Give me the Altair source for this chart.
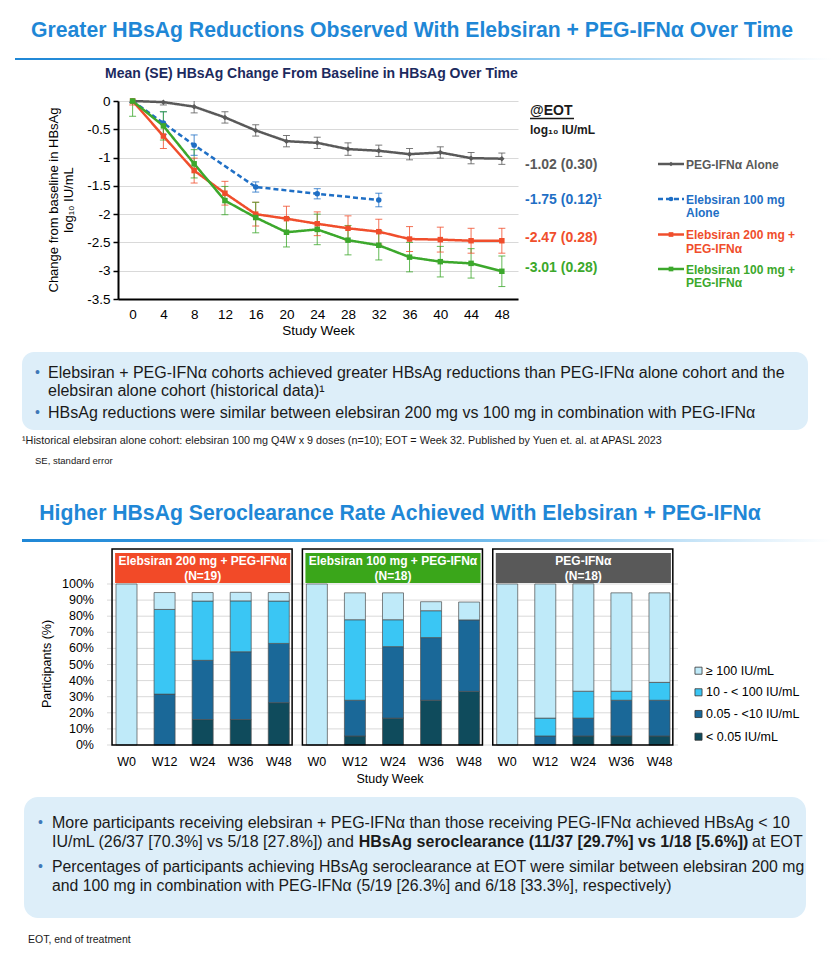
import altair as alt
import pandas as pd

# ---------------- line chart data ----------------
weeks = [0, 4, 8, 12, 16, 20, 24, 28, 32, 36, 40, 44, 48]
series_names = ["PEG-IFNα Alone", "Elebsiran 100 mg Alone",
                "Elebsiran 200 mg + PEG-IFNα", "Elebsiran 100 mg + PEG-IFNα"]
peg_mean = [0, -0.02, -0.10, -0.29, -0.52, -0.71, -0.74, -0.85, -0.88, -0.94, -0.91, -1.01, -1.02]
peg_se = [0.02, 0.05, 0.11, 0.10, 0.10, 0.10, 0.10, 0.11, 0.10, 0.10, 0.10, 0.10, 0.10]
ebs_weeks = [0, 4, 8, 16, 24, 32]
ebs_mean = [0, -0.39, -0.78, -1.52, -1.64, -1.75]
ebs_se = [0.03, 0.20, 0.18, 0.09, 0.09, 0.12]
e200_mean = [0, -0.62, -1.23, -1.63, -2.00, -2.08, -2.17, -2.25, -2.31, -2.44, -2.45, -2.47, -2.47]
e200_se = [0.07, 0.22, 0.22, 0.21, 0.21, 0.22, 0.21, 0.22, 0.22, 0.22, 0.22, 0.22, 0.22]
e100_mean = [0, -0.44, -1.11, -1.76, -2.06, -2.32, -2.27, -2.46, -2.55, -2.76, -2.84, -2.87, -3.01]
e100_se = [0.27, 0.25, 0.25, 0.25, 0.27, 0.26, 0.27, 0.26, 0.26, 0.26, 0.27, 0.26, 0.27]
y_ticks = [0, -0.5, -1, -1.5, -2, -2.5, -3, -3.5]
eot_labels = ["-1.02 (0.30)", "-1.75 (0.12)¹", "-2.47 (0.28)", "-3.01 (0.28)"]
legend_text = [["PEG-IFNα Alone"], ["Elebsiran 100 mg", "Alone"],
               ["Elebsiran 200 mg +", "PEG-IFNα"], ["Elebsiran 100 mg +", "PEG-IFNα"]]

# ---------------- bar chart data ----------------
bar_weeks = ["W0", "W12", "W24", "W36", "W48"]
cohorts = ["Elebsiran 200 mg + PEG-IFNα", "Elebsiran 100 mg + PEG-IFNα", "PEG-IFNα"]
cohort_n = ["(N=19)", "(N=18)", "(N=18)"]
categories = ["< 0.05 IU/mL", "0.05 - <10 IU/mL", "10 - < 100 IU/mL", "≥ 100 IU/mL"]
e200_lt = [0, 0, 15.8, 15.8, 26.3]
e200_low = [0, 31.6, 36.8, 42.1, 36.8]
e200_mid = [0, 52.6, 36.8, 31.6, 26.3]
e200_high = [100, 10.5, 5.3, 5.3, 5.3]
e100_lt = [0, 5.6, 16.7, 27.8, 33.3]
e100_low = [0, 22.2, 44.4, 38.9, 44.4]
e100_mid = [0, 50.0, 16.7, 16.7, 0]
e100_high = [100, 16.7, 16.7, 5.6, 11.1]
peg_lt = [0, 0, 5.6, 5.6, 5.6]
peg_low = [0, 5.6, 11.1, 22.2, 22.2]
peg_mid = [0, 11.1, 16.7, 5.6, 11.1]
peg_high = [100, 83.3, 66.7, 61.1, 55.6]
pct_ticks = [0, 10, 20, 30, 40, 50, 60, 70, 80, 90, 100]

# ---------------- styles ----------------
line_colors = ["#595959", "#1f6fc5", "#f04e2c", "#3ca82c"]
bar_colors = ["#0f4b5c", "#1a6898", "#3ac6f4", "#bfeaf9"]
header_colors = ["#f24a28", "#3aa61a", "#595959"]
TITLE_BLUE = "#1f87d6"
BOX = "#ddeef9"
TXT = "#1a1a1a"

# ---------------- tables ----------------
rows = []
for s, wk, m, se in [(series_names[0], weeks, peg_mean, peg_se),
                     (series_names[1], ebs_weeks, ebs_mean, ebs_se),
                     (series_names[2], weeks, e200_mean, e200_se),
                     (series_names[3], weeks, e100_mean, e100_se)]:
    for w, mm, ss in zip(wk, m, se):
        rows.append(dict(series=s, week=w, mean=mm, se=ss))
line_df = pd.DataFrame(rows)

rows = []
segs = [[e200_lt, e200_low, e200_mid, e200_high],
        [e100_lt, e100_low, e100_mid, e100_high],
        [peg_lt, peg_low, peg_mid, peg_high]]
for ci, name in enumerate(cohorts):
    for wi, wk in enumerate(bar_weeks):
        base = 0.0
        for cat, arr in zip(categories, segs[ci]):
            v = arr[wi]
            rows.append(dict(cohort=name, week=wk, idx=ci * 5 + wi, cat=cat,
                             value=v, y0=base, y1=base + v))
            base += v
bar_df = pd.DataFrame(rows)
xlab_df = pd.DataFrame({"idx": list(range(15)), "lab": bar_weeks * 3})
panel_df = pd.DataFrame({"cohort": cohorts, "n": cohort_n, "start": [0, 5, 10]})

# ---------------- helpers (page pixel -> plot-origin pixel) ----------------
OX, OY = 118, 101


def one():
    return alt.Chart(alt.Data(values=[{}]))


def txt(x, y, s, size=12, color=TXT, weight="normal", align="left", angle=0, baseline="middle"):
    kw = dict(text=s, fontSize=size, color=color, fontWeight=weight, align=align, baseline=baseline)
    if angle:
        kw["angle"] = angle
    return one().mark_text(**kw).encode(x=alt.value(x - OX), y=alt.value(y - OY))


def rect(x0, y0, x1, y1, **kw):
    return one().mark_rect(**kw).encode(x=alt.value(x0 - OX), x2=alt.value(x1 - OX),
                                        y=alt.value(y0 - OY), y2=alt.value(y1 - OY))


def hrule(x0, x1, y, **kw):
    return one().mark_rule(**kw).encode(x=alt.value(x0 - OX), x2=alt.value(x1 - OX), y=alt.value(y - OY))


def dot(x, y, **kw):
    return one().mark_point(filled=True, opacity=1, **kw).encode(x=alt.value(x - OX), y=alt.value(y - OY))


def grad_line(x0, x1, y0, y1):
    g = alt.LinearGradient(gradient="linear", x1=0, x2=1, y1=0, y2=0,
                           stops=[alt.GradientStop(color="#1f87d6", offset=0),
                                  alt.GradientStop(color="#4aa8e6", offset=0.45),
                                  alt.GradientStop(color="#ffffff", offset=1)])
    return rect(x0, y0, x1, y1, fill=g)


# ---------------- line chart ----------------
xs = alt.Scale(domain=[-1.9, 50.1], nice=False, zero=False)
ys = alt.Scale(domain=[-3.5, 0], nice=False, zero=False)
xaxis = alt.Axis(values=weeks, ticks=False, grid=False, domainColor="black", domainWidth=2,
                 labelColor="black", labelFontSize=13.5, labelPadding=8, labelFlush=False,
                 title="Study Week", titleFontSize=13.5, titleFontWeight="normal",
                 titleColor="black", titlePadding=3)
yaxis = alt.Axis(values=y_ticks, labelExpr="toString(datum.value)", tickColor="black",
                 tickSize=5, tickWidth=1.5, domainColor="black", domainWidth=2, grid=True,
                 gridColor="#d9d9d9", gridWidth=1, labelFontSize=13.5, labelPadding=3,
                 labelColor="black", title=None)
X = alt.X("week:Q", scale=xs, axis=xaxis)
col = alt.Color("series:N", scale=alt.Scale(domain=series_names, range=line_colors), legend=None)
dash = alt.StrokeDash("series:N", scale=alt.Scale(domain=series_names, range=[[1, 0], [5, 3], [1, 0], [1, 0]]),
                      legend=None)
shp = alt.Shape("series:N", scale=alt.Scale(domain=series_names, range=["diamond", "circle", "square", "square"]),
                legend=None)

lbase = alt.Chart(line_df).transform_calculate(lo="datum.mean - datum.se", hi="datum.mean + datum.se")
err = lbase.mark_rule(strokeWidth=1, clip=True, opacity=0.8).encode(
    x=X, y=alt.Y("lo:Q", scale=ys, axis=yaxis), y2="hi:Q", color=col)
cap_lo = lbase.mark_tick(orient="horizontal", size=7, thickness=1, clip=True, opacity=0.8).encode(
    x=X, y=alt.Y("lo:Q", scale=ys, axis=yaxis), color=col)
cap_hi = lbase.mark_tick(orient="horizontal", size=7, thickness=1, clip=True, opacity=0.8).encode(
    x=X, y=alt.Y("hi:Q", scale=ys, axis=yaxis), color=col)
lines = lbase.mark_line(strokeWidth=2.5).encode(
    x=X, y=alt.Y("mean:Q", scale=ys, axis=yaxis), color=col, strokeDash=dash, detail="series:N")
pts = lbase.mark_point(filled=True, size=30, opacity=1).encode(
    x=X, y=alt.Y("mean:Q", scale=ys, axis=yaxis), color=col, shape=shp)
line_group = alt.layer(err, cap_lo, cap_hi, lines, pts)

# ---------------- bar chart ----------------
bx = alt.Scale(domain=[0, 14], range=[126.5 - OX, 659.5 - OX], nice=False, zero=False)
by = alt.Scale(domain=[0, 100], range=[745 - OY, 584 - OY], nice=False, zero=False)

grid = alt.Chart(pd.DataFrame({"v": pct_ticks})).mark_rule(color="#d9d9d9", strokeWidth=1).encode(
    y=alt.Y("v:Q", scale=by, axis=None), x=alt.value(107 - OX), x2=alt.value(678 - OX))
bars = alt.Chart(bar_df).transform_filter("datum.value > 0").transform_calculate(
    xl="datum.idx - 0.276", xr="datum.idx + 0.276").mark_rect(stroke="#4d4d4d", strokeWidth=0.7).encode(
    x=alt.X("xl:Q", scale=bx, axis=None), x2="xr:Q",
    y=alt.Y("y0:Q", scale=by, axis=None), y2="y1:Q",
    color=alt.Color("cat:N", scale=alt.Scale(domain=categories, range=bar_colors), legend=None))
pbase = alt.Chart(panel_df).transform_calculate(
    fx0="datum.start - 0.38", fx1="datum.start + 4.35",
    hx0="datum.start - 0.30", hx1="datum.start + 4.30", hc="datum.start + 2")
frames = pbase.mark_rect(fillOpacity=0, stroke="black", strokeWidth=1.5).encode(
    x=alt.X("fx0:Q", scale=bx, axis=None), x2="fx1:Q",
    y=alt.value(549 - OY), y2=alt.value(745 - OY))
headers = pbase.mark_rect().encode(
    x=alt.X("hx0:Q", scale=bx, axis=None), x2="hx1:Q",
    y=alt.value(553 - OY), y2=alt.value(583 - OY),
    fill=alt.Fill("cohort:N", scale=alt.Scale(domain=cohorts, range=header_colors), legend=None))
head_t1 = pbase.mark_text(color="white", fontWeight="bold", fontSize=12).encode(
    x=alt.X("hc:Q", scale=bx, axis=None), y=alt.value(561 - OY), text="cohort:N")
head_t2 = pbase.mark_text(color="white", fontWeight="bold", fontSize=12).encode(
    x=alt.X("hc:Q", scale=bx, axis=None), y=alt.value(576 - OY), text="n:N")
ylabs = alt.Chart(pd.DataFrame({"v": pct_ticks})).transform_calculate(lab="datum.v + '%'").mark_text(
    align="right", fontSize=12.5, color="black").encode(
    y=alt.Y("v:Q", scale=by, axis=None), x=alt.value(94 - OX), text="lab:N")
xlabs = alt.Chart(xlab_df).mark_text(fontSize=12.5, color="black").encode(
    x=alt.X("idx:Q", scale=bx, axis=None), y=alt.value(762 - OY), text="lab:N")
bar_group = alt.layer(grid, bars, frames, headers, head_t1, head_t2, ylabs, xlabs)

# ---------------- decorations & text ----------------
deco = []
deco.append(rect(22, 352, 808, 430, fill=BOX, cornerRadius=12))
deco.append(rect(24, 797, 806, 918, fill=BOX, cornerRadius=14))
deco.append(grad_line(15, 832, 58, 60))
deco.append(grad_line(22, 832, 539, 542))

texts = []
texts.append(txt(412, 31, "Greater HBsAg Reductions Observed With Elebsiran + PEG-IFNα Over Time",
                 21.2, TITLE_BLUE, "bold", "center"))
texts.append(txt(105, 74, "Mean (SE) HBsAg Change From Baseline in HBsAg Over Time", 14, "#1c2a5e", "bold"))
texts.append(txt(54, 200, "Change from baseline in HBsAg", 13, "black", angle=270, align="center"))
texts.append(txt(69, 200, "log₁₀ IU/mL", 13, "black", angle=270, align="center"))
texts.append(txt(530, 111, "@EOT", 14, TXT, "bold"))
texts.append(hrule(530, 574, 118.5, color=TXT, strokeWidth=1.3))
texts.append(txt(530, 130, "log₁₀ IU/mL", 12, TXT, "bold"))
eot_y = [165, 200, 238, 268]
leg_y = [164, 199, 234.5, 269]
leg_shapes = ["diamond", "circle", "square", "square"]
for i in range(4):
    c = line_colors[i]
    texts.append(txt(525, eot_y[i], eot_labels[i], 14, c, "bold"))
    texts.append(hrule(658, 684, leg_y[i], color=c, strokeWidth=2.5,
                       **({"strokeDash": [5, 3]} if i == 1 else {})))
    texts.append(dot(671, leg_y[i], shape=leg_shapes[i], size=22, color=c))
    for j, line in enumerate(legend_text[i]):
        texts.append(txt(686, leg_y[i] + 0.5 + j * 13.8, line, 12, c, "bold"))

# box 1
texts.append(txt(35, 373, "•", 14, "#3f78b8"))
texts.append(txt(35, 413, "•", 14, "#3f78b8"))
texts.append(txt(48, 373, "Elebsiran + PEG-IFNα cohorts achieved greater HBsAg reductions than PEG-IFNα alone cohort and the", 16))
texts.append(txt(48, 391, "elebsiran alone cohort (historical data)¹", 16))
texts.append(txt(48, 413, "HBsAg reductions were similar between elebsiran 200 mg vs 100 mg in combination with PEG-IFNα", 16))
texts.append(txt(22, 441, "¹Historical elebsiran alone cohort: elebsiran 100 mg Q4W x 9 doses (n=10); EOT = Week 32. Published by Yuen et. al. at APASL 2023", 10.8))
texts.append(txt(35, 461, "SE, standard error", 9.5))

# section 2
texts.append(txt(400, 514, "Higher HBsAg Seroclearance Rate Achieved With Elebsiran + PEG-IFNα",
                 21.2, TITLE_BLUE, "bold", "center"))
texts.append(txt(47, 664, "Participants (%)", 12.5, "black", angle=270, align="center"))
texts.append(txt(390, 779, "Study Week", 12.5, "black", align="center"))
leg2_y = [670.7, 692.3, 714, 736.7]
for i, cat in enumerate(reversed(categories)):
    texts.append(dot(698.5, leg2_y[i], shape="square", size=50, fill=bar_colors[3 - i],
                     stroke="#333333", strokeWidth=0.8))
    texts.append(txt(706, leg2_y[i], cat, 12.5, "black"))

# box 2
texts.append(txt(38, 823, "•", 14, "#3f78b8"))
texts.append(txt(38, 867, "•", 14, "#3f78b8"))
texts.append(txt(52, 823, "More participants receiving elebsiran + PEG-IFNα than those receiving PEG-IFNα achieved HBsAg < 10", 16))
texts.append(txt(52, 842, "IU/mL (26/37 [70.3%] vs 5/18 [27.8%]) and", 16))
texts.append(txt(358.8, 842, "HBsAg seroclearance (11/37 [29.7%] vs 1/18 [5.6%])", 16, TXT, "bold"))
texts.append(txt(752.1, 842, "at EOT", 16))
texts.append(txt(52, 867, "Percentages of participants achieving HBsAg seroclearance at EOT were similar between elebsiran 200 mg", 15.8))
texts.append(txt(52, 886, "and 100 mg in combination with PEG-IFNα (5/19 [26.3%] and 6/18 [33.3%], respectively)", 15.8))
texts.append(txt(28, 940, "EOT, end of treatment", 10.5))

chart = alt.layer(*deco, line_group, bar_group, *texts).resolve_scale(
    x="independent", y="independent", color="independent", fill="independent"
).properties(
    width=400, height=198, autosize="none",
    padding={"left": OX - 8, "top": OY - 8, "right": 823 - (OX - 8) - 400, "bottom": 947 - (OY - 8) - 198},
    background="white",
).configure(font="Liberation Sans").configure_view(strokeWidth=0)

chart.save("out.html", embed_options={"renderer": "svg", "actions": False})
